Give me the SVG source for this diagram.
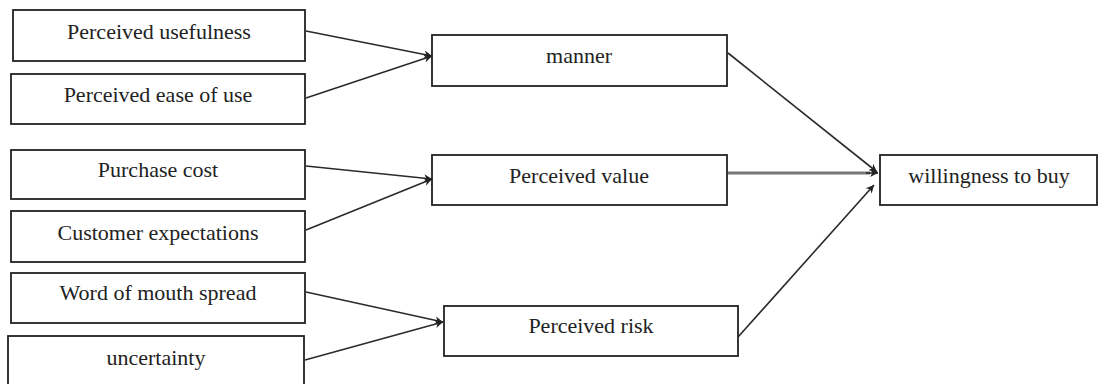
<svg xmlns="http://www.w3.org/2000/svg" width="1099" height="384" viewBox="0 0 1099 384">
<style>
.box{fill:#fff;stroke:#222;stroke-width:1.8}
.lbl{font-family:"Liberation Serif","Times New Roman",serif;font-size:22px;fill:#222;text-anchor:middle}
.con{stroke:#2a2a2a;stroke-width:1.6;fill:none}
.con2{stroke:#777;stroke-width:3;fill:none}
</style>
<defs>
<marker id="ah" viewBox="0 0 10 10" refX="10" refY="5" markerWidth="9" markerHeight="8" markerUnits="userSpaceOnUse" orient="auto">
<path d="M0,0 L10,5 L0,10 L3,5 Z" fill="#222"/>
</marker>
</defs>
<rect width="1099" height="384" fill="#fff"/>
<g id="connectors">
<line class="con" x1="306" y1="31" x2="432" y2="56" marker-end="url(#ah)"/>
<line class="con" x1="306" y1="98" x2="432" y2="56" marker-end="url(#ah)"/>
<line class="con" x1="306" y1="166" x2="432" y2="179" marker-end="url(#ah)"/>
<line class="con" x1="306" y1="230" x2="432" y2="179" marker-end="url(#ah)"/>
<line class="con" x1="306" y1="292" x2="443" y2="322" marker-end="url(#ah)"/>
<line class="con" x1="305" y1="360" x2="443" y2="322" marker-end="url(#ah)"/>
<line class="con" x1="728" y1="53" x2="877" y2="172" marker-end="url(#ah)"/>
<line class="con2" x1="728" y1="173" x2="870" y2="173"/>
<line class="con" x1="866" y1="173" x2="878" y2="173" marker-end="url(#ah)"/>
<line class="con" x1="738" y1="337" x2="874" y2="185" marker-end="url(#ah)"/>
</g>
<g id="n1"><rect class="box" x="13" y="10" width="292" height="51"/><text class="lbl" x="159" y="39">Perceived usefulness</text></g>
<g id="n2"><rect class="box" x="11" y="74" width="294" height="50"/><text class="lbl" x="158" y="102">Perceived ease of use</text></g>
<g id="n3"><rect class="box" x="11" y="150" width="294" height="49"/><text class="lbl" x="158" y="177">Purchase cost</text></g>
<g id="n4"><rect class="box" x="11" y="211" width="294" height="51"/><text class="lbl" x="158" y="240">Customer expectations</text></g>
<g id="n5"><rect class="box" x="11" y="273" width="294" height="50"/><text class="lbl" x="158" y="300">Word of mouth spread</text></g>
<g id="n6"><rect class="box" x="8" y="336" width="296" height="52"/><text class="lbl" x="156" y="365">uncertainty</text></g>
<g id="n7"><rect class="box" x="432" y="35" width="295" height="51"/><text class="lbl" x="579" y="63">manner</text></g>
<g id="n8"><rect class="box" x="432" y="155" width="295" height="50"/><text class="lbl" x="579" y="183">Perceived value</text></g>
<g id="n9"><rect class="box" x="444" y="306" width="294" height="50"/><text class="lbl" x="591" y="333">Perceived risk</text></g>
<g id="n10"><rect class="box" x="880" y="155" width="217" height="50"/><text class="lbl" x="989" y="183">willingness to buy</text></g>
</svg>
